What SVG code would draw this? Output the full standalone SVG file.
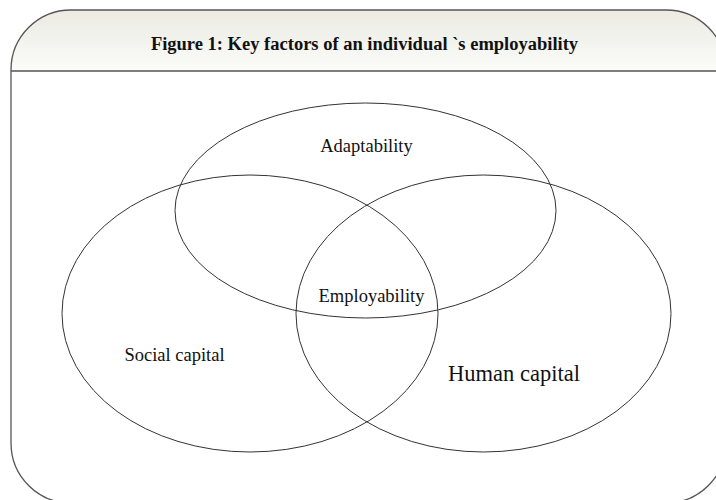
<svg xmlns="http://www.w3.org/2000/svg" width="716" height="500" viewBox="0 0 716 500">
  <defs>
    <linearGradient id="headerFill" x1="0" y1="0" x2="0" y2="1">
      <stop offset="0" stop-color="#ebebe3"/>
      <stop offset="1" stop-color="#fbfbf9"/>
    </linearGradient>
  </defs>
  <style>
    .frame { fill: none; stroke: #555; stroke-width: 1.3; }
    .set { fill: none; stroke: #333; stroke-width: 1; }
    .title { font-family: "Liberation Serif", "Times New Roman", serif; font-weight: bold; font-size: 18.5px; fill: #111; text-anchor: middle; }
    .label { font-family: "Liberation Serif", "Times New Roman", serif; font-size: 18.5px; fill: #111; text-anchor: middle; }
  </style>
  <rect width="716" height="500" fill="#fff"/>

  <!-- outer card with shaded header band -->
  <g id="frame">
    <path d="M11,71 L11,70 A60,60 0 0 1 71,10 L666,10 A60,60 0 0 1 726,70 L726,71 Z" fill="url(#headerFill)"/>
    <path class="frame" d="M11,71 L11,70 A60,60 0 0 1 71,10 L666,10 A60,60 0 0 1 726,70 L726,443 A60,60 0 0 1 666,503 L71,503 A60,60 0 0 1 11,443 Z"/>
    <line class="frame" x1="11" y1="71" x2="726" y2="71"/>
    <text class="title" x="364.5" y="49.5">Figure 1: Key factors of an individual `s employability</text>
  </g>

  <!-- three overlapping sets -->
  <g id="adaptability">
    <ellipse class="set" cx="365.5" cy="210.5" rx="190.5" ry="107.5"/>
    <text class="label" x="366.5" y="152">Adaptability</text>
  </g>
  <g id="social-capital">
    <ellipse class="set" cx="250" cy="313.5" rx="188" ry="138.5"/>
    <text class="label" x="174.5" y="360.5">Social capital</text>
  </g>
  <g id="human-capital">
    <ellipse class="set" cx="483.5" cy="313.5" rx="187.5" ry="138.5"/>
    <text class="label" x="514" y="381" style="font-size:22.5px">Human capital</text>
  </g>
  <g id="employability">
    <text class="label" x="371.5" y="301.5">Employability</text>
  </g>
</svg>
